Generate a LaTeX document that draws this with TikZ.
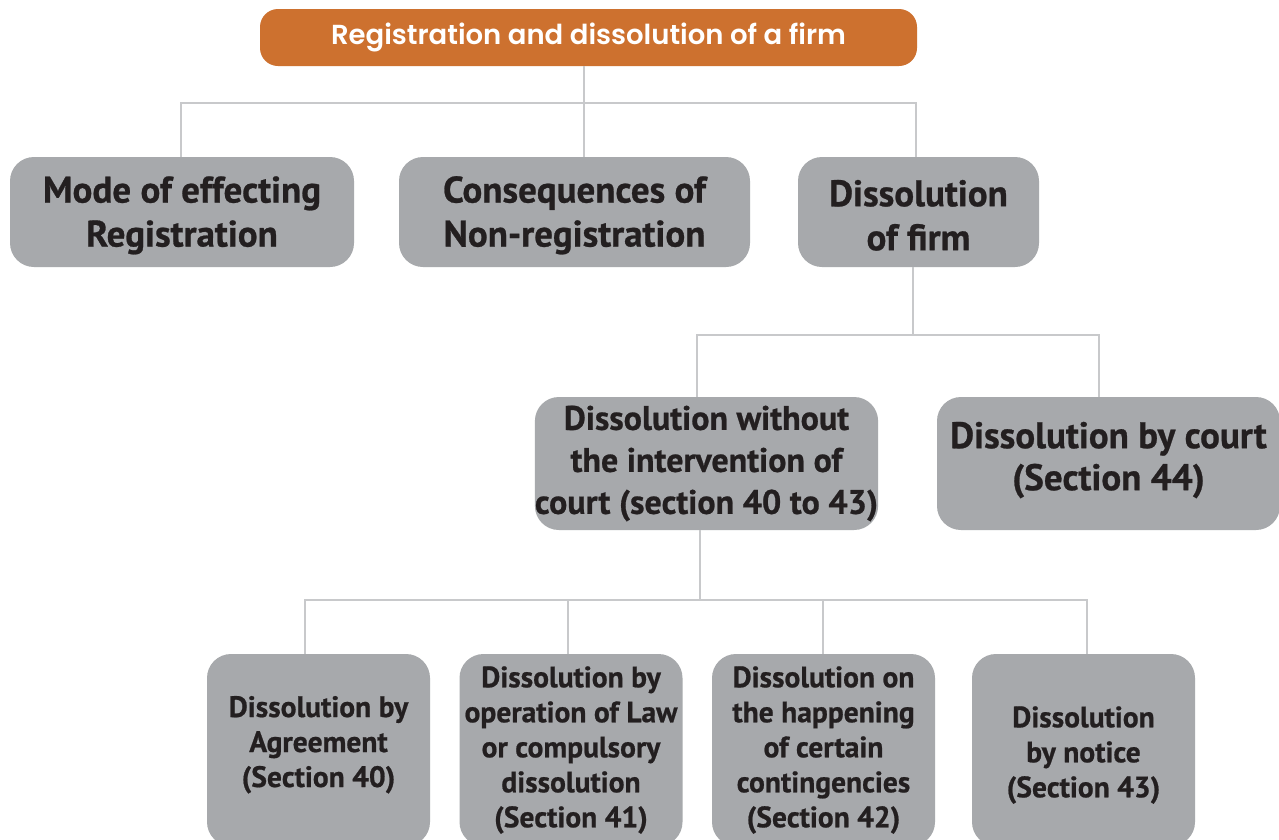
\documentclass[tikz,border=0pt]{standalone}
\usepackage{fontspec}
\setmainfont{PT Sans}[BoldFeatures={FakeBold=0.7}]
\newfontfamily\titlefont{Poppins}[UprightFont=* SemiBold]
\definecolor{orng}{HTML}{CD712F}
\definecolor{boxgray}{HTML}{A7A9AC}
\definecolor{linegray}{HTML}{C8C9CB}
\definecolor{txt}{HTML}{231F20}
\begin{document}
\begin{tikzpicture}[x=1pt,y=-1pt,
  conn/.style={draw=linegray, line width=2.6pt},
  titlebox/.style={rounded corners=18pt, fill=orng, text=white, align=center, inner sep=0pt,
    font=\titlefont\fontsize{27.5}{30}\selectfont},
  bigbox/.style={rounded corners=24pt, fill=boxgray, text=txt, align=center, inner sep=0pt,
    minimum height=110, font=\bfseries\fontsize{37}{44}\selectfont},
  midbox/.style={rounded corners=24pt, fill=boxgray, text=txt, align=center, inner sep=0pt,
    minimum height=133, font=\bfseries\fontsize{34}{42}\selectfont},
  smallbox/.style={rounded corners=24pt, fill=boxgray, text=txt, align=center, inner sep=0pt,
    minimum height=192, minimum width=223, font=\bfseries\fontsize{29.5}{35}\selectfont}]
\useasboundingbox (0,0) rectangle (1279,839);
\clip (0,0) rectangle (1279,839);
\fill[white] (0,0) rectangle (1279,839);

\node[titlebox, minimum width=657, minimum height=57] (title) at (588.5,37.5) {Registration and dissolution of a firm};

\node[bigbox, minimum width=344] (m1) at (182,212) {\mbox{}\\[-11pt]Mode of effecting\\Registration};
\node[bigbox, minimum width=351] (m2) at (574.5,212) {\mbox{}\\[-11pt]Consequences of\\Non-registration};
\node[bigbox, minimum width=241] (m3) at (918.5,212) {\mbox{}\\[-11pt]Dissolution\\of firm};

\node[midbox, minimum width=343] (a) at (706.5,463.5) {Dissolution without\\the intervention of\\court (section 40 to 43)};
\node[midbox, minimum width=343, font=\bfseries\fontsize{37}{42}\selectfont] (b) at (1108.5,463.5) {Dissolution by court\\(Section 44)\\[-27pt]\mbox{}};

\node[smallbox] (c1) at (318.5,750) {Dissolution by\\Agreement\\(Section 40)\\[-18pt]\mbox{}};
\node[smallbox] (c2) at (571,750) {Dissolution by\\operation of Law\\or compulsory\\dissolution\\(Section 41)};
\node[smallbox] (c3) at (823.5,750) {Dissolution on\\the happening\\of certain\\contingencies\\(Section 42)};
\node[smallbox] (c4) at (1083.5,750) {\mbox{}\\[-4pt]Dissolution\\by notice\\(Section 43)};

% level 1 connectors
\coordinate (j1) at (584,103);
\coordinate (l1) at (181,103);
\coordinate (r1) at (916,103);
\draw[conn] (j1 |- title.south) -- (j1);
\draw[conn] (l1 |- m1.north) -- (l1) -- (r1) -- (r1 |- m3.north);
\draw[conn] (j1) -- (j1 |- m2.north);

% level 2 connectors
\coordinate (j2) at (913,335);
\coordinate (l2) at (697,335);
\coordinate (r2) at (1099,335);
\draw[conn] (j2 |- m3.south) -- (j2);
\draw[conn] (l2 |- a.north) -- (l2) -- (r2) -- (r2 |- b.north);

% level 3 connectors
\coordinate (j3) at (700,600);
\coordinate (p1) at (305,600);
\coordinate (p2) at (568,600);
\coordinate (p3) at (823,600);
\coordinate (p4) at (1087,600);
\draw[conn] (j3 |- a.south) -- (j3);
\draw[conn] (p1 |- c1.north) -- (p1) -- (p4) -- (p4 |- c4.north);
\draw[conn] (p2) -- (p2 |- c2.north);
\draw[conn] (p3) -- (p3 |- c3.north);
\end{tikzpicture}
\end{document}
